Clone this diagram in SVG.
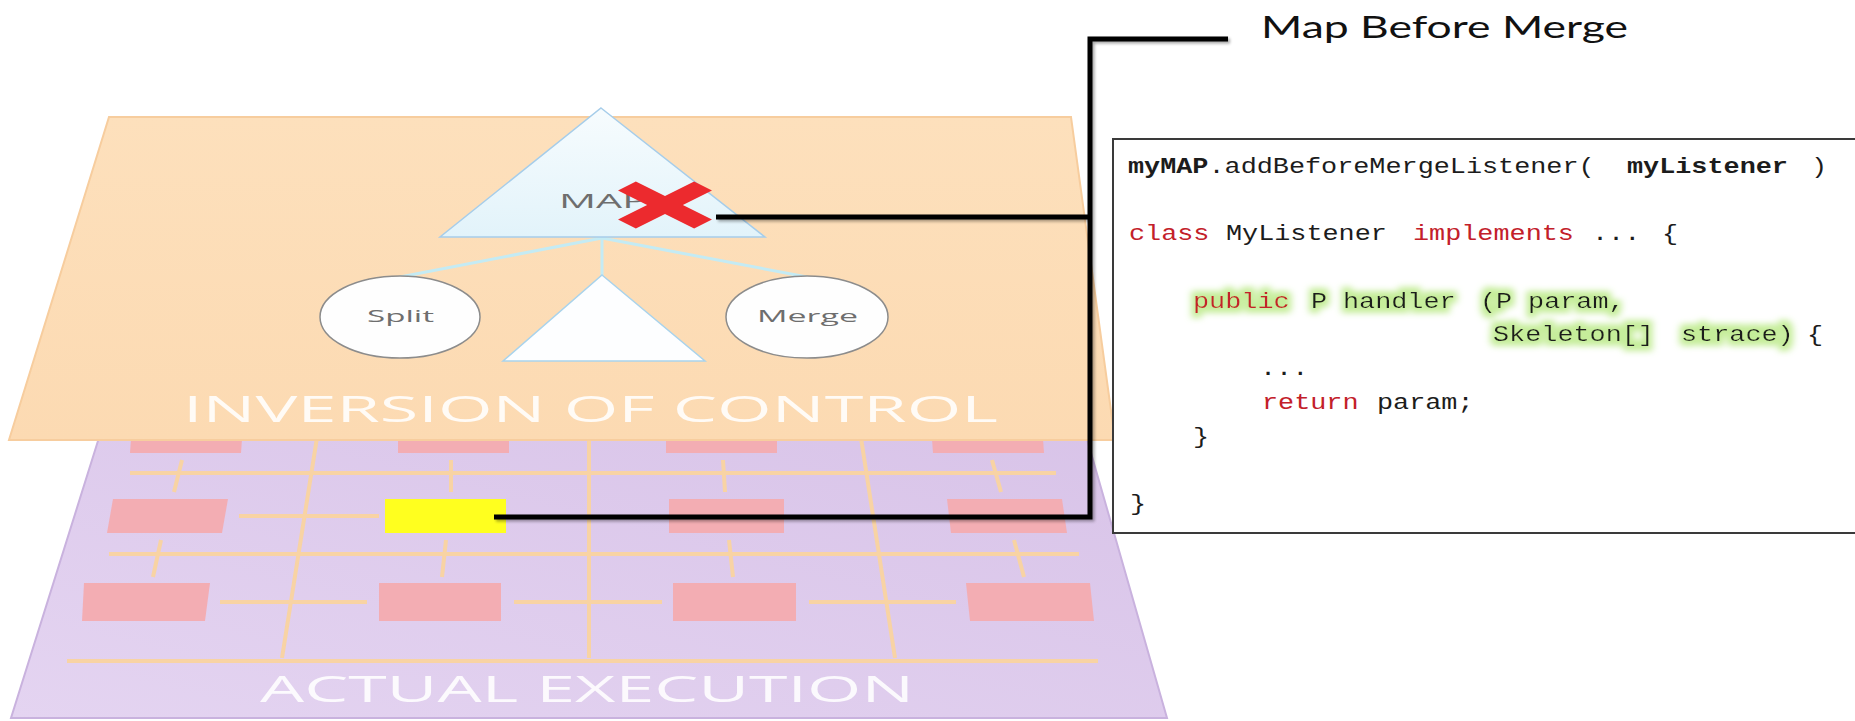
<svg xmlns="http://www.w3.org/2000/svg" width="1855" height="721" viewBox="0 0 1855 721">
  <style>
    .grid { stroke: #f8d3a4; stroke-width: 4; fill: none; stroke-linecap: butt; }
    .cell { fill: #f3adb3; }
    .plane-label { font-family: "Open Sans", "Liberation Sans", sans-serif; font-size: 37px; fill: #ffffff; fill-opacity: 0.88; }
    .node-label { font-family: "Open Sans", "Liberation Sans", sans-serif; fill: #6e6e6e; }
    .tree-link { stroke: #c4ebf4; stroke-width: 3; fill: none; }
    .leaf { fill: #fefefe; stroke: #8c8c8c; stroke-width: 1.5; }
    .code { font-family: "Liberation Mono", "DejaVu Sans Mono", monospace; font-size: 22px; fill: #1c1c1c; }
    .kw { fill: #c3202a; }
    .b { font-weight: bold; }
    .callout { stroke: #000000; stroke-width: 5; fill: none; stroke-linejoin: miter; }
  </style>
  <defs>
    <linearGradient id="purpleFill" x1="0" y1="1" x2="1" y2="0">
      <stop offset="0" stop-color="#e4d4f1"/>
      <stop offset="1" stop-color="#d8c3e8"/>
    </linearGradient>
    <linearGradient id="peachFill" x1="0" y1="0" x2="0" y2="1">
      <stop offset="0" stop-color="#fde0bc"/>
      <stop offset="1" stop-color="#fcdab2"/>
    </linearGradient>
    <linearGradient id="triFill" x1="0" y1="0" x2="0" y2="1">
      <stop offset="0" stop-color="#f7fcfe"/>
      <stop offset="1" stop-color="#e2f3fa"/>
    </linearGradient>
    <filter id="codeGlow" x="-5%" y="-40%" width="110%" height="180%">
      <feMorphology in="SourceAlpha" operator="dilate" radius="3 5" result="d"/>
      <feGaussianBlur in="d" stdDeviation="3" result="b"/>
      <feFlood flood-color="#c2ec94" flood-opacity="0.95"/>
      <feComposite in2="b" operator="in" result="g"/>
      <feMerge><feMergeNode in="g"/><feMergeNode in="SourceGraphic"/></feMerge>
    </filter>
    <filter id="lineShadow" x="-5%" y="-5%" width="110%" height="110%">
      <feGaussianBlur in="SourceAlpha" stdDeviation="1.5"/>
      <feOffset dx="2" dy="2" result="o"/>
      <feComponentTransfer><feFuncA type="linear" slope="0.35"/></feComponentTransfer>
      <feMerge><feMergeNode/><feMergeNode in="SourceGraphic"/></feMerge>
    </filter>
  </defs>

  <rect width="1855" height="721" fill="#ffffff"/>

  <!-- lower layer: execution grid -->
  <g id="plane-execution">
    <polygon points="103,425 1083,425 1167,718 11,718" fill="url(#purpleFill)" stroke="#c9b2de" stroke-width="2"/>
    <!-- bus lines -->
    <line class="grid" x1="130" y1="473" x2="1056" y2="473"/>
    <line class="grid" x1="109" y1="554" x2="1079" y2="554"/>
    <line class="grid" x1="67" y1="661" x2="1098" y2="661" stroke-width="7"/>
    <line class="grid" x1="319" y1="425" x2="282" y2="658"/>
    <line class="grid" x1="589" y1="425" x2="589" y2="658"/>
    <line class="grid" x1="859" y1="425" x2="895" y2="658"/>
    <!-- taps -->
    <line class="grid" x1="182" y1="460" x2="174" y2="492"/>
    <line class="grid" x1="451" y1="460" x2="451" y2="492"/>
    <line class="grid" x1="723" y1="460" x2="725" y2="492"/>
    <line class="grid" x1="992" y1="460" x2="1001" y2="492"/>
    <line class="grid" x1="161" y1="540" x2="153" y2="577"/>
    <line class="grid" x1="446" y1="540" x2="442" y2="577"/>
    <line class="grid" x1="729" y1="540" x2="733" y2="577"/>
    <line class="grid" x1="1014" y1="540" x2="1024" y2="577"/>
    <line class="grid" x1="239" y1="516" x2="379" y2="516"/>
    <line class="grid" x1="220" y1="602" x2="367" y2="602"/>
    <line class="grid" x1="514" y1="602" x2="662" y2="602"/>
    <line class="grid" x1="809" y1="602" x2="956" y2="602"/>
    <!-- processing cells -->
    <polygon class="cell" points="132,425 243,425 241,453 130,453"/>
    <rect class="cell" x="398" y="425" width="111" height="28"/>
    <rect class="cell" x="666" y="425" width="111" height="28"/>
    <polygon class="cell" points="931,425 1042,425 1044,453 933,453"/>
    <polygon class="cell" points="113,499 228,499 222,533 107,533"/>
    <rect x="385" y="499" width="121" height="34" fill="#ffff1f"/>
    <rect class="cell" x="669" y="499" width="115" height="34"/>
    <polygon class="cell" points="947,499 1062,499 1067,533 951,533"/>
    <polygon class="cell" points="84,583 210,583 205,621 82,621"/>
    <rect class="cell" x="379" y="583" width="122" height="38"/>
    <rect class="cell" x="673" y="583" width="123" height="38"/>
    <polygon class="cell" points="966,583 1090,583 1094,621 970,621"/>
    <text class="plane-label" x="260" y="702" textLength="654" lengthAdjust="spacingAndGlyphs">ACTUAL EXECUTION</text>
  </g>

  <!-- upper layer: skeleton tree -->
  <g id="plane-ioc">
    <polygon points="109,117 1071,117 1115,440 9,440" fill="url(#peachFill)" stroke="#f7cd9e" stroke-width="2"/>
    <text class="plane-label" x="183" y="422" textLength="815" lengthAdjust="spacingAndGlyphs">INVERSION OF CONTROL</text>
  </g>

  <g id="tree-links">
    <line class="tree-link" x1="602" y1="238" x2="400" y2="277"/>
    <line class="tree-link" x1="602" y1="238" x2="807" y2="277"/>
    <line class="tree-link" x1="602" y1="238" x2="602" y2="276"/>
  </g>

  <g id="node-map">
    <polygon points="601,108 765,237 440,237" fill="url(#triFill)" stroke="#a6cdea" stroke-width="1.5"/>
    <text class="node-label" x="559" y="208" font-size="20" fill="#7d7d7d" textLength="88" lengthAdjust="spacingAndGlyphs">MAP</text>
  </g>

  <g id="node-split">
    <ellipse class="leaf" cx="400" cy="317" rx="80" ry="41"/>
    <text class="node-label" x="367" y="322" font-size="17" textLength="67" lengthAdjust="spacingAndGlyphs">Split</text>
  </g>

  <g id="node-sub">
    <polygon points="602,275 705,361 503,361" fill="#fdfeff" stroke="#a9d3ec" stroke-width="1.5"/>
  </g>

  <g id="node-merge">
    <ellipse class="leaf" cx="807" cy="317" rx="81" ry="41"/>
    <text class="node-label" x="757" y="322" font-size="17" textLength="101" lengthAdjust="spacingAndGlyphs">Merge</text>
  </g>

  <!-- interception mark on the map node -->
  <g id="node-mark">
    <polygon transform="translate(665 205) scale(47 23.5)" fill="#ec2a2e"
             points="-1,-0.62 -0.62,-1 0,-0.38 0.62,-1 1,-0.62 0.38,0 1,0.62 0.62,1 0,0.38 -0.62,1 -1,0.62 -0.38,0"/>
  </g>

  <!-- listener code -->
  <g id="node-code">
    <rect x="1113" y="139" width="760" height="394" fill="#ffffff" stroke="#3a3a3a" stroke-width="2"/>
    <g transform="scale(1.22 1)">
      <text class="code" y="173"><tspan class="b" x="924.6">myMAP</tspan>.addBeforeMergeListener(<tspan class="b" x="1333.6">myListener</tspan><tspan x="1484.4">)</tspan></text>
      <text class="code" y="240.4"><tspan class="kw" x="925.4">class</tspan><tspan x="1004.9">MyListener</tspan><tspan class="kw" x="1158.2">implements</tspan><tspan x="1304.9">...</tspan><tspan x="1362.3">{</tspan></text>
      <g filter="url(#codeGlow)">
        <text class="code kw" x="977.9" y="307.8">public</text>
        <text class="code" x="1074.6" y="307.8">P</text>
        <text class="code" x="1100.8" y="307.8">handler</text>
        <text class="code" x="1213.1" y="307.8">(P <tspan x="1252.5">param,</tspan></text>
        <text class="code" x="1223.8" y="341.5">Skeleton[]</text>
        <text class="code" x="1377.9" y="341.5">strace)</text>
      </g>
      <text class="code" x="1481.1" y="341.5">{</text>
      <text class="code" x="1032.8" y="375.2">...</text>
      <text class="code" y="408.9"><tspan class="kw" x="1034.4">return</tspan><tspan x="1128.7">param;</tspan></text>
      <text class="code" x="977.9" y="442.6">}</text>
      <text class="code" x="926.2" y="510">}</text>
    </g>
  </g>

  <g id="node-title">
    <text x="1261" y="38" font-family="Lato, 'Open Sans', 'Liberation Sans', sans-serif" font-size="31" fill="#111111" textLength="367" lengthAdjust="spacingAndGlyphs">Map Before Merge</text>
  </g>

  <!-- callout connectors -->
  <g id="connectors" filter="url(#lineShadow)">
    <path class="callout" d="M1228 39 H1090 V517 H494"/>
    <path class="callout" d="M716 217 H1090"/>
  </g>
</svg>
